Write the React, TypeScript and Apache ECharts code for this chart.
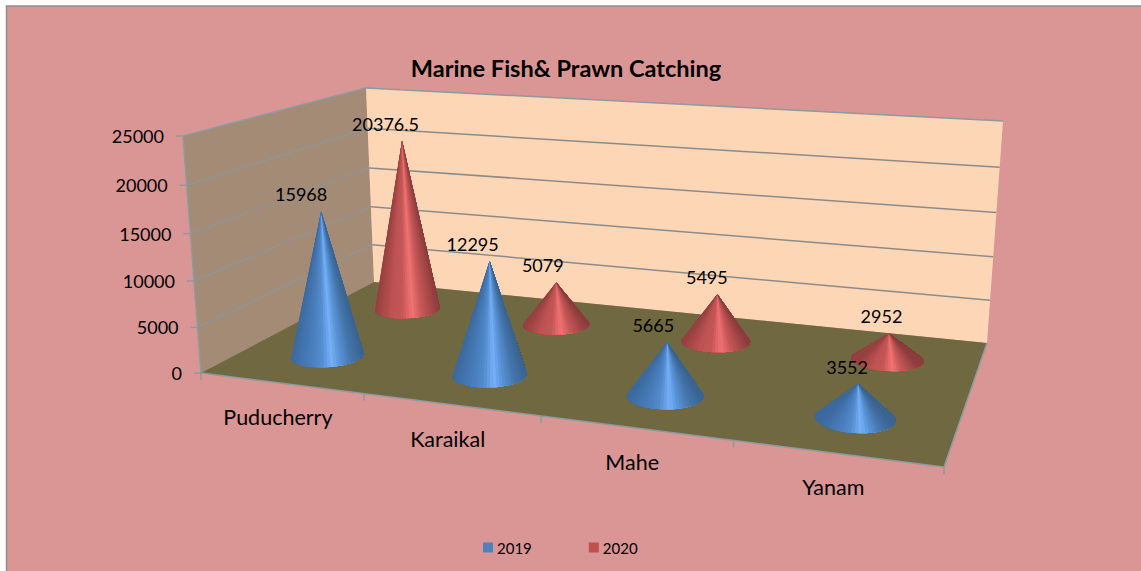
import React, { useEffect, useRef } from "react";
import * as echarts from "echarts";

const categories = ["Puducherry", "Karaikal", "Mahe", "Yanam"];
const values2019 = [15968, 12295, 5665, 3552];
const values2020 = [20376.5, 5079, 5495, 2952];
const yTicks = [0, 5000, 10000, 15000, 20000, 25000];

const W = 1141;
const H = 571;
const FONT = "Lato, 'Open Sans', sans-serif";

// floor corners (front-left, front-right, back-right, back-left) of the drawn 3D box
const FL = [201, 373], FR = [944, 467], BR = [987, 343], BL = [374, 282];
// screen vector of the full value height at those corners
const hFL = [-18, -237], hFR = [28, -268], hBR = [16, -222], hBL = [-8, -194];

const dx1 = FR[0] - BR[0], dx2 = BL[0] - BR[0], sx = FL[0] - FR[0] + BR[0] - BL[0];
const dy1 = FR[1] - BR[1], dy2 = BL[1] - BR[1], sy = FL[1] - FR[1] + BR[1] - BL[1];
const den = dx1 * dy2 - dx2 * dy1;
const g = (sx * dy2 - dx2 * sy) / den, h = (dx1 * sy - sx * dy1) / den;
const a = FR[0] - FL[0] + g * FR[0], b = BL[0] - FL[0] + h * BL[0], c = FL[0];
const d = FR[1] - FL[1] + g * FR[1], e = BL[1] - FL[1] + h * BL[1], f0 = FL[1];

function proj(u: number, v: number, w: number): number[] {
  const q = g * u + h * v + 1;
  const x = (a * u + b * v + c) / q;
  const y = (d * u + e * v + f0) / q;
  const hx = (1 - v) * ((1 - u) * hFL[0] + u * hFR[0]) + v * ((1 - u) * hBL[0] + u * hBR[0]);
  const hy = (1 - v) * ((1 - u) * hFL[1] + u * hFR[1]) + v * ((1 - u) * hBL[1] + u * hBR[1]);
  const ww = w / (1 + 0.05 * (1 - w));
  return [x + hx * ww, y + hy * ww];
}

const normU = (px: number) => px / W;
const normW = (py: number) => (H - py) / H;

const EDGE = "#8d9a9e";
const GRID = "#8a8c8c";

type Stop = [number, number[]];
const blueStops: Stop[] = [
  [0, [60, 106, 158]], [0.25, [72, 124, 186]], [0.42, [84, 140, 206]],
  [0.56, [118, 176, 247]], [0.68, [88, 146, 214]], [0.85, [68, 116, 168]], [1, [58, 100, 146]],
];
const redStops: Stop[] = [
  [0, [150, 64, 64]], [0.25, [190, 82, 82]], [0.42, [196, 86, 86]],
  [0.58, [242, 114, 114]], [0.72, [200, 88, 88]], [0.88, [166, 72, 72]], [1, [140, 60, 60]],
];
function shade(stops: Stop[], raw: number): string {
  const s = Math.min(1, Math.max(0, raw));
  for (let i = 1; i < stops.length; i++) {
    if (s <= stops[i][0]) {
      const [s0, c0] = stops[i - 1];
      const [s1, c1] = stops[i];
      const t = (s - s0) / (s1 - s0);
      const m = c0.map((k, j) => Math.round(k + (c1[j] - k) * t));
      return `rgb(${m[0]},${m[1]},${m[2]})`;
    }
  }
  const l = stops[stops.length - 1][1];
  return `rgb(${l[0]},${l[1]},${l[2]})`;
}

function coneRenderer(depth: number, stops: Stop[], labelDx: number) {
  return (_: any, api: any) => {
    const val = api.value(1);
    const u = normU(api.coord([api.value(0), 0])[0]);
    const w = normW(api.coord([api.value(0), val])[1]);
    const apex = proj(u, depth, w);
    const N = 72;
    const ring: number[][] = [];
    for (let i = 0; i < N; i++) {
      const t = (i / N) * Math.PI * 2;
      ring.push(proj(u + 0.05 * Math.cos(t), depth + 0.105 * Math.sin(t), 0));
    }
    // tangent points seen from the apex bound the visible front arc
    const ang = (p: number[]) => Math.atan2(p[0] - apex[0], p[1] - apex[1]);
    let iL = 0, iR = 0;
    ring.forEach((p, i) => {
      if (ang(p) < ang(ring[iL])) iL = i;
      if (ang(p) > ang(ring[iR])) iR = i;
    });
    // walk from the left tangent to the right one through the lowest point
    let lowest = 0;
    ring.forEach((p, i) => { if (p[1] > ring[lowest][1]) lowest = i; });
    const dirUp = ((lowest - iL + N) % N) < ((iR - iL + N) % N);
    const step = dirUp ? 1 : -1;
    const arc: number[][] = [];
    for (let i = iL; ; i = (i + step + N) % N) {
      arc.push(ring[i]);
      if (i === iR) break;
    }
    const x0 = arc[0][0], x1 = arc[arc.length - 1][0];
    const children: any[] = [];
    // each slice covers everything still to its right, so no seam shows between slices
    for (let i = 0; i < arc.length - 1; i++) {
      const fill = shade(stops, ((arc[i][0] + arc[i + 1][0]) / 2 - x0) / (x1 - x0));
      children.push({
        type: "polygon",
        shape: { points: [apex, ...arc.slice(i)] },
        style: { fill },
      });
    }
    children.push({
      type: "text",
      style: {
        x: apex[0] - 17 + 12 * u + labelDx,
        y: apex[1] - 17,
        text: String(val),
        fill: "#000",
        font: `18px ${FONT}`,
        align: "center",
        verticalAlign: "middle",
      },
    });
    return { type: "group", children };
  };
}

function planesRenderer() {
  const poly = (pts: number[][], fill: string) => ({ type: "polygon", shape: { points: pts }, style: { fill } });
  const line = (p: number[], q: number[], stroke: string, lineWidth: number) => ({
    type: "line",
    shape: { x1: p[0], y1: p[1], x2: q[0], y2: q[1] },
    style: { stroke, lineWidth },
  });
  return {
    type: "group",
    children: [
      poly([proj(0, 0, 0), proj(0, 1, 0), proj(0, 1, 1), proj(0, 0, 1)], "#a38b75"),
      poly([proj(0, 1, 0), proj(1, 1, 0), proj(1, 1, 1), proj(0, 1, 1)], "#fdd6b6"),
      poly([proj(0, 0, 0), proj(1, 0, 0), proj(1, 1, 0), proj(0, 1, 0)], "#6f6840"),
      line(proj(0, 0, 0), proj(0, 0, 1), EDGE, 1.5),
      line(proj(0, 0, 1), proj(0, 1, 1), EDGE, 1.5),
      line(proj(0, 1, 1), proj(1, 1, 1), EDGE, 1.5),
      line(proj(0, 0, 0), proj(1, 0, 0), EDGE, 1.5),
      line(proj(1, 0, 0), proj(1, 1, 0), EDGE, 1.5),
    ],
  };
}

function tickRenderer(_: any, api: any) {
  const val = api.value(1);
  const w = normW(api.coord([0, val])[1]);
  const front = proj(0, 0, w);
  const back = proj(0, 1, w);
  const right = proj(1, 1, w);
  const ln = (p: number[], q: number[], stroke: string, lineWidth: number) => ({
    type: "line",
    shape: { x1: p[0], y1: p[1], x2: q[0], y2: q[1] },
    style: { stroke, lineWidth },
  });
  return {
    type: "group",
    children: [
      ...(val > 0 && val < 25000 ? [ln(front, back, "#8f9496", 1.5)] : []),
      ...(val > 0 && val < 25000 ? [ln(back, right, GRID, 1.5)] : []),
      ln(front, [front[0] - 7, front[1]], EDGE, 1.5),
      {
        type: "text",
        style: {
          x: front[0] - 19,
          y: front[1],
          text: String(val),
          fill: "#000",
          font: `18px ${FONT}`,
          align: "right",
          verticalAlign: "middle",
        },
      },
    ],
  };
}

function categoryRenderer(params: any, api: any) {
  const i = api.value(0);
  const u = normU(api.coord([i, 0])[0]);
  const half = api.size([1, 0])[0] / 2 / W;
  const mid = proj(u, 0, 0);
  const tick = (uu: number) => {
    const p = proj(uu, 0, 0);
    return { type: "line", shape: { x1: p[0], y1: p[1], x2: p[0], y2: p[1] + 7 }, style: { stroke: EDGE, lineWidth: 1.5 } };
  };
  const children: any[] = [tick(u - half)];
  if (params.dataIndex === categories.length - 1) children.push(tick(u + half));
  children.push({
    type: "text",
    style: {
      x: mid[0] - 3,
      y: mid[1] + 34,
      text: categories[i],
      fill: "#000",
      font: `21.5px ${FONT}`,
      align: "center",
      verticalAlign: "middle",
    },
  });
  return { type: "group", children };
}

export default function App() {
  const ref = useRef<HTMLDivElement>(null);
  useEffect(() => {
    document.body.style.margin = "0";
    const chart = echarts.init(ref.current!, undefined, { renderer: "svg" });
    chart.setOption({
      animation: false,
      backgroundColor: "#ffffff",
      title: {
        text: "Marine Fish& Prawn Catching",
        left: 561,
        top: 51,
        textAlign: "center",
        textStyle: { fontFamily: FONT, fontSize: 23.5, fontWeight: "bold", color: "#000" },
      },
      legend: {
        data: ["2019", "2020"],
        left: 478,
        top: 535,
        icon: "rect",
        itemWidth: 10,
        itemHeight: 10,
        itemGap: 57,
        itemStyle: { borderWidth: 0 },
        textStyle: { fontFamily: FONT, fontSize: 15, color: "#000", padding: [0, 0, 0, -1] },
      },
      graphic: [
        {
          type: "rect",
          z: -10,
          silent: true,
          shape: { x: 6.5, y: 6, width: 1160, height: 600 },
          style: { fill: "#da9695", stroke: "#8f8f8f", lineWidth: 1.5 },
        },
      ],
      grid: { left: 0, top: 0, width: W, height: H, containLabel: false },
      xAxis: { type: "category", data: categories, show: false },
      yAxis: { type: "value", min: 0, max: 25000, interval: 5000, show: false },
      series: [
        { type: "custom", name: "planes", silent: true, z: 1, data: [[0, 0]], encode: { x: 0, y: 1 }, renderItem: planesRenderer },
        { type: "custom", name: "yticks", silent: true, z: 1.5, data: yTicks.map((t) => [0, t]), encode: { x: 0, y: 1 }, renderItem: tickRenderer },
        { type: "custom", name: "cats", silent: true, z: 1.5, data: categories.map((_, i) => [i, 0]), encode: { x: 0, y: 1 }, renderItem: categoryRenderer },
        {
          type: "custom", name: "2020", silent: true, z: 2,
          itemStyle: { color: "#c0504d" },
          data: values2020.map((v, i) => [i, v]), encode: { x: 0, y: 1 },
          renderItem: coneRenderer(0.75, redStops, -1),
        },
        {
          type: "custom", name: "2019", silent: true, z: 3,
          itemStyle: { color: "#4f81bd" },
          data: values2019.map((v, i) => [i, v]), encode: { x: 0, y: 1 },
          renderItem: coneRenderer(0.25, blueStops, -4.5),
        },
      ],
    });
    return () => chart.dispose();
  }, []);
  return <div ref={ref} style={{ position: "fixed", left: 0, top: 0, width: W, height: H }} />;
}
